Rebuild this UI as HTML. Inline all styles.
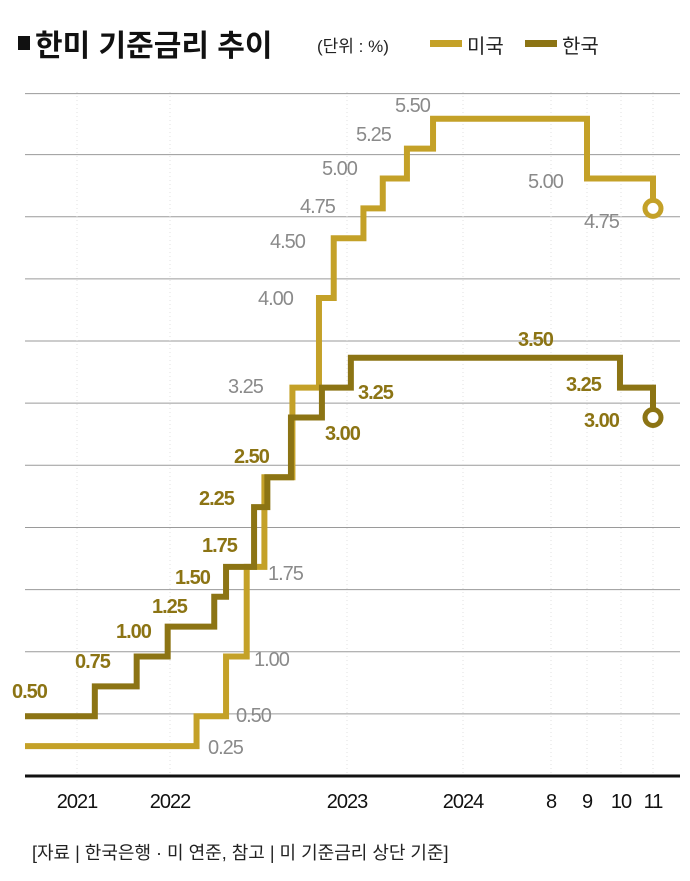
<!DOCTYPE html>
<html><head><meta charset="utf-8">
<style>
html,body{margin:0;padding:0;background:#fff;}
body{width:690px;height:876px;overflow:hidden;font-family:"Liberation Sans","Noto Sans CJK KR",sans-serif;}
svg text{font-family:"Liberation Sans","Noto Sans CJK KR",sans-serif;}
</style></head>
<body>
<svg width="690" height="876" viewBox="0 0 690 876">
  <g>
    <rect x="18" y="36" width="12" height="14" fill="#111"/>
    <text x="35" y="56" font-size="30" font-weight="bold" fill="#111">한미 기준금리 추이</text>
    <text x="317" y="52" font-size="17" fill="#222">(단위 : %)</text>
  </g>
  <g>
    <rect x="430" y="40" width="32" height="7" fill="#c4a128"/>
    <text x="467" y="53" font-size="20" fill="#222">미국</text>
    <rect x="525" y="40" width="32" height="7" fill="#8c7414"/>
    <text x="562" y="53" font-size="20" fill="#222">한국</text>
  </g>
  <g id="grid"></g>
  <g id="series"></g>
  <line x1="25" y1="776" x2="680" y2="776" stroke="#111" stroke-width="3"/>
  <g id="xticks" font-size="20" fill="#111" text-anchor="middle"></g>
  <g font-size="20" fill="#8a8a8a" letter-spacing="-1">
    <text x="395" y="112">5.50</text>
    <text x="356" y="141">5.25</text>
    <text x="322" y="175">5.00</text>
    <text x="300" y="213">4.75</text>
    <text x="270" y="248">4.50</text>
    <text x="258" y="305">4.00</text>
    <text x="228" y="393">3.25</text>
    <text x="268" y="580">1.75</text>
    <text x="254" y="666">1.00</text>
    <text x="236" y="722">0.50</text>
    <text x="208" y="754">0.25</text>
    <text x="528" y="188">5.00</text>
    <text x="584" y="228">4.75</text>
  </g>
  <g font-size="20" font-weight="bold" fill="#8c7414" letter-spacing="-1">
    <text x="518" y="346">3.50</text>
    <text x="358" y="399">3.25</text>
    <text x="325" y="440">3.00</text>
    <text x="234" y="463">2.50</text>
    <text x="199" y="505">2.25</text>
    <text x="202" y="552">1.75</text>
    <text x="175" y="584">1.50</text>
    <text x="152" y="613">1.25</text>
    <text x="116" y="638">1.00</text>
    <text x="75" y="668">0.75</text>
    <text x="12" y="698">0.50</text>
    <text x="566" y="391">3.25</text>
    <text x="584" y="427">3.00</text>
  </g>
  <text x="32" y="859" font-size="18" fill="#222">[자료 | 한국은행 · 미 연준, 참고 | 미 기준금리 상단 기준]</text>
</svg>
<script>
// months since Jan 2021
const usTimes = [-6.7, 13.8, 15.8, 17.2, 18.4, 20.3, 22.1, 23.1, 25.7, 27.7, 30.2, 32.9, 44.0, 46.0];
const usValues = [0.25, 0.50, 1.00, 1.75, 2.50, 3.25, 4.00, 4.50, 4.75, 5.00, 5.25, 5.50, 5.00, 4.75];
const krTimes = [-6.7, 2.3, 7.7, 11.7, 15.0, 15.8, 17.7, 18.6, 20.2, 22.3, 24.4, 44.97, 46.0];
const krValues = [0.50, 0.75, 1.00, 1.25, 1.50, 1.75, 2.25, 2.50, 3.00, 3.25, 3.50, 3.25, 3.00];
const tickMonths = [0, 12, 24, 36, 43, 44, 45, 46];
const tickLabels = ["2021", "2022", "2023", "2024", "8", "9", "10", "11"];
const gridValues = [0.52, 1.04, 1.56, 2.08, 2.6, 3.12, 3.64, 4.16, 4.68, 5.2, 5.71];

// axis functions
const axM = [-6.7, 0, 12, 24, 36, 43, 44, 45, 46];
const axP = [25, 77, 170, 347, 463, 551, 587, 621, 653];
function xScale(m){
  if(m<=axM[0]) return axP[0];
  for(let i=1;i<axM.length;i++){
    if(m<=axM[i]) return axP[i-1]+(m-axM[i-1])/(axM[i]-axM[i-1])*(axP[i]-axP[i-1]);
  }
  return axP[axP.length-1];
}
function yScale(v){ return 776 - v*119.5; }
const NS="http://www.w3.org/2000/svg";

const grid=document.getElementById('grid');
gridValues.forEach(v=>{
  const l=document.createElementNS(NS,'line');
  
  
  l.setAttribute('x1',25);l.setAttribute('x2',680);
  l.setAttribute('y1',yScale(v));l.setAttribute('y2',yScale(v));
  l.setAttribute('stroke','#9a9a9a');l.setAttribute('stroke-width','1');
  grid.appendChild(l);
});
tickMonths.forEach(m=>{
  const l=document.createElementNS(NS,'line');
  
  
  const x=xScale(m);
  l.setAttribute('x1',x);l.setAttribute('x2',x);
  l.setAttribute('y1',92);l.setAttribute('y2',776);
  l.setAttribute('stroke','#e2e2e2');l.setAttribute('stroke-width','1');
  l.setAttribute('stroke-dasharray','1,3');
  grid.appendChild(l);
});

const xt=document.getElementById('xticks');
tickMonths.forEach((m,i)=>{
  const t=document.createElementNS(NS,'text');
  
  
  t.setAttribute('x',xScale(m));t.setAttribute('y',808);
  t.setAttribute('letter-spacing','-1');
  t.textContent=tickLabels[i];
  xt.appendChild(t);
});

function stepPath(ts,vs){
  let d='M'+xScale(ts[0])+','+yScale(vs[0]);
  for(let i=1;i<ts.length;i++){
    d+=' H'+xScale(ts[i])+' V'+yScale(vs[i]);
  }
  return d;
}
const series=document.getElementById('series');
function drawSeries(ts,vs,color,name){
  const p=document.createElementNS(NS,'path');
  
  
  p.setAttribute('d',stepPath(ts,vs));
  p.setAttribute('fill','none');p.setAttribute('stroke',color);
  p.setAttribute('stroke-width','6');p.setAttribute('stroke-linejoin','miter');
  series.appendChild(p);
  const c=document.createElementNS(NS,'circle');
  
  
  c.setAttribute('cx',xScale(ts[ts.length-1]));c.setAttribute('cy',yScale(vs[vs.length-1]));
  c.setAttribute('r','8');c.setAttribute('fill','#fff');
  c.setAttribute('stroke',color);c.setAttribute('stroke-width','5');
  series.appendChild(c);
}
drawSeries(usTimes,usValues,'#c4a128','us');
drawSeries(krTimes,krValues,'#8c7414','korea');
</script>
</body></html>
